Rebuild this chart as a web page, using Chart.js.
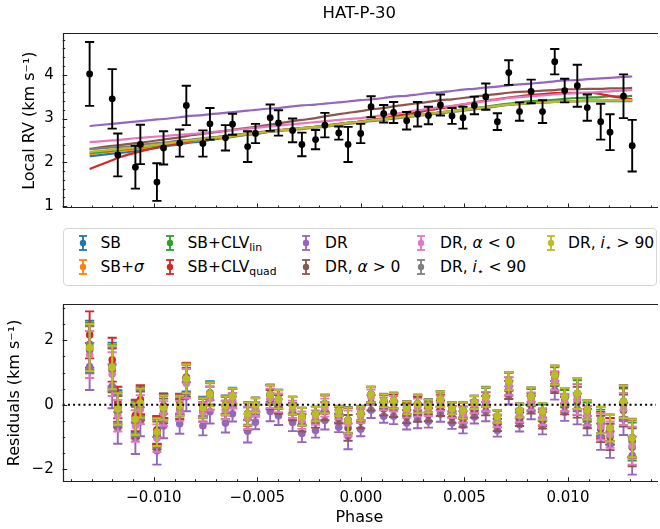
<!DOCTYPE html>
<html>
<head>
<meta charset="utf-8">
<script src="https://cdn.jsdelivr.net/npm/chart.js@4.4.1/dist/chart.umd.min.js"></script>
<style>
  body { margin: 0; background: #fff; overflow: hidden; }
  #wrap { position: relative; width: 660px; height: 529px; overflow: hidden; font-family: "DejaVu Sans", sans-serif; }
  #rvChart { position: absolute; left: 0; top: 0; }
  #resChart { position: absolute; left: 0; top: 286px; }
  #legend { position: absolute; left: 63px; top: 228px; width: 592px; height: 56px; border: 1px solid #d6d6d6; border-radius: 4px; background: #fff; }
  .item { position: absolute; height: 20px; display: flex; align-items: center; font-size: 15.5px; color: #000; white-space: nowrap; }
  .item svg { position: absolute; top: 1px; }
  .item sub { font-size: 70%; position: relative; top: 3px; vertical-align: baseline; }
</style>
</head>
<body>
<div id="wrap">
  <canvas id="rvChart" width="660" height="226"></canvas>
  <div id="legend"></div>
  <canvas id="resChart" width="660" height="243"></canvas>
</div>
<script>
// orbital phase of each exposure
const phase = [-0.01310,-0.01201,-0.01174,-0.01089,-0.01065,-0.00985,-0.00953,-0.00875,-0.00843,-0.00763,
  -0.00729,-0.00654,-0.00620,-0.00547,-0.00509,-0.00438,-0.00398,-0.00330,-0.00285,-0.00219,
  -0.00174,-0.00107,-0.00062,-0.00001,0.00049,0.00110,0.00158,0.00221,0.00274,0.00326,
  0.00384,0.00440,0.00493,0.00548,0.00603,0.00659,0.00714,0.00766,0.00822,0.00877,
  0.00936,0.00984,0.01045,0.01093,0.01158,0.01203,0.01268,0.01310];

// measured local RV and its uncertainty (km/s)
const rv = [4.02,3.45,2.17,1.89,2.41,1.55,2.33,2.44,3.30,2.43,
  2.88,2.56,2.87,2.36,2.66,3.02,2.90,2.73,2.41,2.52,
  2.85,2.67,2.41,2.66,3.27,3.11,3.14,2.95,3.10,3.07,
  3.31,3.06,3.02,3.30,3.50,2.93,4.05,3.16,3.62,3.16,
  4.30,3.64,3.75,3.25,2.93,2.69,3.51,2.38];
const rvErr = [0.73,0.68,0.49,0.49,0.45,0.43,0.38,0.31,0.45,0.30,
  0.36,0.29,0.24,0.35,0.22,0.30,0.29,0.27,0.27,0.22,
  0.28,0.15,0.40,0.22,0.24,0.20,0.24,0.20,0.28,0.20,
  0.24,0.18,0.25,0.20,0.30,0.19,0.28,0.21,0.27,0.26,
  0.29,0.27,0.48,0.30,0.41,0.41,0.50,0.59];

// best-fit models evaluated at each phase
const modelSB = [2.14,2.20,2.21,2.26,2.28,2.33,2.36,2.41,2.44,2.48,2.51,2.56,2.58,2.63,2.65,2.70,2.72,2.76,2.78,2.81,
  2.83,2.87,2.90,2.93,2.96,2.99,3.02,3.05,3.08,3.11,3.14,3.17,3.20,3.23,3.26,3.29,3.32,3.34,3.36,3.37,
  3.38,3.39,3.40,3.40,3.40,3.40,3.40,3.40];
const modelSBsig = [2.19,2.25,2.26,2.30,2.32,2.37,2.39,2.44,2.46,2.51,2.53,2.57,2.59,2.64,2.66,2.70,2.73,2.76,2.78,2.81,
  2.83,2.87,2.90,2.93,2.96,2.99,3.02,3.05,3.08,3.11,3.14,3.17,3.20,3.23,3.26,3.29,3.32,3.34,3.36,3.37,
  3.38,3.39,3.40,3.41,3.41,3.41,3.41,3.41];
const modelClvLin = [2.22,2.27,2.29,2.33,2.35,2.39,2.41,2.47,2.49,2.53,2.55,2.59,2.61,2.65,2.67,2.71,2.73,2.76,2.78,2.81,
  2.83,2.87,2.90,2.93,2.96,2.99,3.02,3.05,3.08,3.11,3.14,3.17,3.21,3.24,3.27,3.31,3.34,3.37,3.40,3.41,
  3.43,3.45,3.47,3.48,3.49,3.51,3.51,3.52];
const modelClvQuad = [1.85,2.05,2.10,2.22,2.25,2.34,2.37,2.44,2.47,2.53,2.55,2.60,2.62,2.66,2.68,2.72,2.74,2.76,2.78,2.81,
  2.84,2.88,2.90,2.93,2.97,3.01,3.05,3.10,3.14,3.19,3.23,3.28,3.32,3.37,3.41,3.44,3.48,3.51,3.54,3.56,
  3.58,3.59,3.59,3.59,3.56,3.52,3.47,3.44];
const modelDR = [2.83,2.88,2.89,2.93,2.94,2.98,2.99,3.03,3.05,3.08,3.10,3.13,3.15,3.18,3.20,3.23,3.24,3.28,3.30,3.32,
  3.34,3.37,3.39,3.42,3.44,3.47,3.50,3.52,3.55,3.58,3.60,3.63,3.66,3.68,3.71,3.73,3.76,3.78,3.80,3.82,
  3.85,3.87,3.88,3.90,3.92,3.93,3.95,3.96];
const modelDRaPos = [2.31,2.38,2.39,2.44,2.45,2.50,2.52,2.57,2.60,2.65,2.67,2.72,2.74,2.79,2.81,2.86,2.89,2.94,2.97,3.01,
  3.05,3.10,3.13,3.17,3.21,3.24,3.28,3.32,3.35,3.38,3.42,3.44,3.47,3.50,3.53,3.56,3.59,3.61,3.62,3.64,
  3.65,3.67,3.67,3.68,3.68,3.69,3.69,3.70];
const modelDRaNeg = [2.46,2.50,2.51,2.55,2.56,2.59,2.60,2.63,2.64,2.67,2.69,2.72,2.74,2.77,2.79,2.82,2.84,2.87,2.89,2.92,
  2.94,2.97,2.99,3.01,3.04,3.08,3.11,3.15,3.19,3.22,3.26,3.29,3.33,3.36,3.40,3.43,3.47,3.49,3.51,3.53,
  3.55,3.57,3.58,3.59,3.61,3.62,3.64,3.65];
const modelDRiLow = [2.30,2.34,2.35,2.38,2.40,2.44,2.45,2.50,2.51,2.55,2.57,2.60,2.62,2.65,2.67,2.70,2.72,2.74,2.76,2.79,
  2.81,2.85,2.88,2.91,2.94,2.97,3.00,3.03,3.06,3.09,3.12,3.15,3.18,3.21,3.24,3.28,3.31,3.33,3.35,3.37,
  3.38,3.39,3.40,3.41,3.41,3.42,3.42,3.42];
const modelDRiHigh = [2.24,2.29,2.30,2.34,2.36,2.40,2.42,2.47,2.49,2.53,2.55,2.59,2.61,2.65,2.67,2.71,2.73,2.76,2.78,2.81,
  2.83,2.87,2.90,2.93,2.96,2.99,3.02,3.05,3.08,3.11,3.14,3.17,3.20,3.23,3.26,3.29,3.32,3.34,3.36,3.37,
  3.38,3.39,3.40,3.41,3.41,3.42,3.42,3.42];

const models = [modelSB, modelSBsig, modelClvLin, modelClvQuad, modelDR, modelDRaPos, modelDRaNeg, modelDRiLow, modelDRiHigh];
const modelLabels = ['SB', 'SB+<i>σ</i>', 'SB+CLV<sub>lin</sub>', 'SB+CLV<sub>quad</sub>', 'DR',
  'DR, <i>α</i> &gt; 0', 'DR, <i>α</i> &lt; 0', 'DR, <i>i</i><sub>⋆</sub> &lt; 90', 'DR, <i>i</i><sub>⋆</sub> &gt; 90'];
const modelColors = ['#1f77b4', '#ff7f0e', '#2ca02c', '#d62728', '#9467bd', '#8c564b', '#e377c2', '#7f7f7f', '#bcbd22'];

// visible phase window; the right spine falls just outside the canvas
const phaseRange = [-0.0144, 0.01425];
const rvRange = [0.958, 4.947];
const resRange = [-2.39, 3.13];

Chart.defaults.font.family = '"DejaVu Sans", sans-serif';
Chart.defaults.color = '#000';

const fmtPhase = v => (v < -1e-9 ? '\u2212' : '') + Math.abs(v).toFixed(3);
const fmtInt = v => (v < 0 ? '\u2212' : '') + Math.abs(Math.round(v));

// vertical error bars, drawn just before each dataset's own markers
const errorBars = {
  id: 'errorBars',
  beforeDatasetDraw(chart, args) {
    const ds = chart.data.datasets[args.index];
    if (!ds.errors) return;
    const {ctx} = chart;
    const y = chart.scales.y;
    const cap = 4.6;
    ctx.save();
    ctx.strokeStyle = ds.backgroundColor;
    ctx.lineWidth = 1.9;
    args.meta.data.forEach((pt, i) => {
      const v = ds.data[i].y, e = ds.errors[i];
      const top = y.getPixelForValue(v + e), bot = y.getPixelForValue(v - e);
      ctx.beginPath();
      ctx.moveTo(pt.x, top); ctx.lineTo(pt.x, bot);
      ctx.moveTo(pt.x - cap, top); ctx.lineTo(pt.x + cap, top);
      ctx.moveTo(pt.x - cap, bot); ctx.lineTo(pt.x + cap, bot);
      ctx.stroke();
    });
    ctx.restore();
  }
};

// left/top/bottom spines with inward major/minor ticks on the left and bottom
const frameTicks = {
  id: 'frameTicks',
  afterDraw(chart, args, opts) {
    const {ctx, chartArea: a, scales} = chart;
    ctx.save();
    ctx.strokeStyle = '#222';
    ctx.lineWidth = 1;
    const ticks = (scale, step, len, horizontal) => {
      const k0 = Math.ceil(scale.min / step - 1e-6), k1 = Math.floor(scale.max / step + 1e-6);
      for (let k = k0; k <= k1; k++) {
        const p = Math.round(scale.getPixelForValue(k * step)) + 0.5;
        ctx.beginPath();
        if (horizontal) { ctx.moveTo(p, a.bottom); ctx.lineTo(p, a.bottom - len); }
        else { ctx.moveTo(a.left, p); ctx.lineTo(a.left + len, p); }
        ctx.stroke();
      }
    };
    ticks(scales.x, opts.xMinor, 2.5, true);
    ticks(scales.x, opts.xMajor, 4.5, true);
    ticks(scales.y, opts.yMinor, 2.5, false);
    ticks(scales.y, opts.yMajor, 4.5, false);
    const l = Math.round(a.left) + 0.5, t = Math.round(a.top) + 0.5, b = Math.round(a.bottom) - 0.5;
    ctx.lineWidth = 1.2;
    ctx.beginPath();
    ctx.moveTo(a.right + 2, t); ctx.lineTo(l, t); ctx.lineTo(l, b); ctx.lineTo(a.right + 2, b);
    ctx.stroke();
    ctx.restore();
  }
};

// dotted zero line for the residual panel
const zeroLine = {
  id: 'zeroLine',
  afterDatasetsDraw(chart) {
    const {ctx, chartArea: a} = chart;
    const y0 = chart.scales.y.getPixelForValue(0);
    ctx.save();
    ctx.strokeStyle = '#000';
    ctx.lineWidth = 2;
    ctx.setLineDash([2, 3.2]);
    ctx.beginPath();
    ctx.moveTo(a.left, y0); ctx.lineTo(a.right, y0);
    ctx.stroke();
    ctx.restore();
  }
};

const noGrid = {display: false, drawTicks: false};
const noBorder = {display: false};
const tickFont = {size: 15};
const labelFont = {size: 16};

new Chart(document.getElementById('rvChart'), {
  type: 'scatter',
  data: {
    datasets: models.map((m, k) => ({
      data: phase.map((p, i) => ({x: p, y: m[i]})),
      showLine: true,
      borderColor: modelColors[k],
      backgroundColor: modelColors[k],
      borderWidth: 2.2,
      pointRadius: 0,
      cubicInterpolationMode: 'monotone',
      order: models.length - k
    })).concat([{
      data: phase.map((p, i) => ({x: p, y: rv[i]})),
      errors: rvErr,
      backgroundColor: '#000',
      borderColor: '#000',
      pointRadius: 3.4,
      pointBorderWidth: 0,
      order: 0
    }])
  },
  options: {
    responsive: false,
    animation: false,
    events: [],
    layout: {padding: 0},
    plugins: {
      legend: {display: false},
      tooltip: {enabled: false},
      title: {display: true, text: 'HAT-P-30', fullSize: false,
        font: {size: 16.5, weight: 'normal'}, padding: {top: 3.5, bottom: 10}},
      frameTicks: {xMajor: 0.005, xMinor: 0.001, yMajor: 1, yMinor: 0.2}
    },
    scales: {
      x: {type: 'linear', min: phaseRange[0], max: phaseRange[1], grid: noGrid, border: noBorder,
        ticks: {display: false}, afterFit: s => { s.height = 3.3; }},
      y: {min: rvRange[0], max: rvRange[1], grid: noGrid, border: noBorder,
        ticks: {stepSize: 1, includeBounds: false, padding: 9, font: tickFont, callback: fmtInt},
        title: {display: true, text: 'Local RV (km s\u207B\u00B9)', font: labelFont, padding: {top: 20.4, bottom: 0}},
        afterFit: s => { s.width = 62.7; }}
    }
  },
  plugins: [errorBars, frameTicks]
});

new Chart(document.getElementById('resChart'), {
  type: 'scatter',
  data: {
    datasets: models.map((m, k) => ({
      data: phase.map((p, i) => ({x: p, y: rv[i] - m[i]})),
      errors: rvErr,
      backgroundColor: modelColors[k],
      borderColor: modelColors[k],
      pointRadius: 3.8,
      pointBorderWidth: 0,
      order: models.length - k
    }))
  },
  options: {
    responsive: false,
    animation: false,
    events: [],
    layout: {padding: {left: 0, right: 0, top: 5.7, bottom: 0}},
    plugins: {
      legend: {display: false},
      tooltip: {enabled: false},
      frameTicks: {xMajor: 0.005, xMinor: 0.001, yMajor: 2, yMinor: 0.5}
    },
    scales: {
      x: {type: 'linear', min: phaseRange[0], max: phaseRange[1], grid: noGrid, border: noBorder,
        ticks: {stepSize: 0.005, includeBounds: false, padding: 7.3, font: tickFont, maxRotation: 0, callback: fmtPhase},
        title: {display: true, text: 'Phase', font: labelFont, padding: {top: 0, bottom: 1.4}},
        afterFit: s => { s.height = 47.3; }},
      y: {min: resRange[0], max: resRange[1], grid: noGrid, border: noBorder,
        ticks: {stepSize: 2, includeBounds: false, padding: 9, font: tickFont, callback: fmtInt},
        title: {display: true, text: 'Residuals (km s\u207B\u00B9)', font: labelFont, padding: {top: 5.4, bottom: 0}},
        afterFit: s => { s.width = 62.7; }}
    }
  },
  plugins: [errorBars, frameTicks, zeroLine]
});

// legend between the panels: errorbar handle + label, filled column by column
const legendCols = [[83, 100.5], [170, 187.5], [306, 325], [421, 440], [551, 568]];
const legendRows = [243, 267];
const legendBox = document.getElementById('legend');
modelLabels.forEach((label, k) => {
  const col = Math.floor(k / 2), row = k % 2;
  const c = modelColors[k];
  const item = document.createElement('div');
  item.className = 'item';
  item.style.left = (legendCols[col][1] - 64) + 'px';
  item.style.top = (legendRows[row] - 10 - 229) + 'px';
  item.innerHTML =
    '<svg width="12" height="18" style="left:' + (legendCols[col][0] - legendCols[col][1] - 6) + 'px">' +
    '<line x1="6" y1="2" x2="6" y2="16" stroke="' + c + '" stroke-width="1.8"/>' +
    '<line x1="2" y1="2" x2="10" y2="2" stroke="' + c + '" stroke-width="1.8"/>' +
    '<line x1="2" y1="16" x2="10" y2="16" stroke="' + c + '" stroke-width="1.8"/>' +
    '<circle cx="6" cy="9" r="3.2" fill="' + c + '"/></svg>' +
    '<span>' + label + '</span>';
  legendBox.appendChild(item);
});
</script>
</body>
</html>
